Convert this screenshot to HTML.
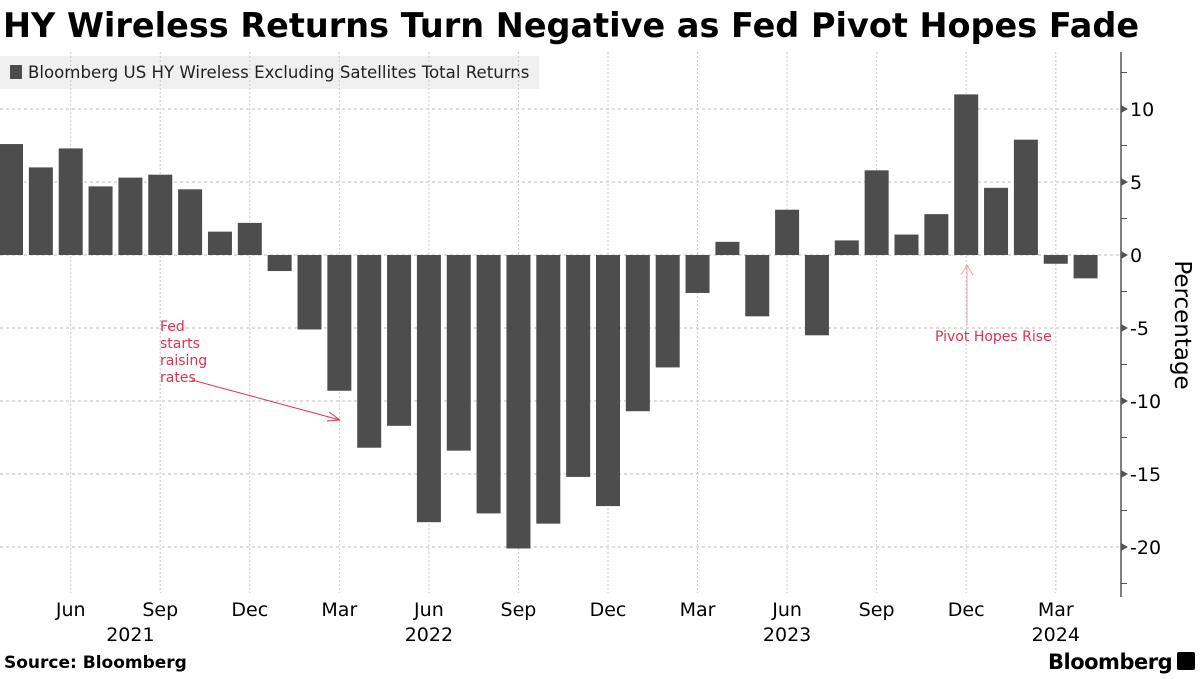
<!DOCTYPE html>
<html><head><meta charset="utf-8"><style>
body{margin:0;background:#fff;font-family:"DejaVu Sans","Liberation Sans",sans-serif;}
svg text{font-family:"DejaVu Sans","Liberation Sans",sans-serif;}
</style></head><body>
<svg id="chart" width="1200" height="675" xmlns="http://www.w3.org/2000/svg">
<text x="3" y="37" font-size="33.5" font-weight="bold" fill="#000">HY Wireless Returns Turn Negative as Fed Pivot Hopes Fade</text>
<g>
<rect x="0" y="56" width="539" height="33" fill="#f0f0f0"/>
<rect x="10" y="65" width="12" height="14" fill="#4d4d4d"/>
<text x="28" y="78" font-size="16.6" fill="#222">Bloomberg US HY Wireless Excluding Satellites Total Returns</text>
</g>
<g id="grid"></g><g id="bars"></g><g id="axis"></g>
<g>
<text x="160" y="331" font-size="14" fill="#e0304e">Fed</text>
<text x="160" y="348" font-size="14" fill="#e0304e">starts</text>
<text x="160" y="365" font-size="14" fill="#e0304e">raising</text>
<text x="160" y="382" font-size="14" fill="#e0304e">rates</text>
<line x1="192" y1="380" x2="340" y2="420" stroke="#e0304e" stroke-width="1"/>
<path d="M340 420 L329 412 M340 420 L327 421" stroke="#e0304e" fill="none"/>
</g>
<g>
<text x="935" y="341" font-size="14" fill="#e0304e">Pivot Hopes Rise</text>
<line x1="967" y1="325" x2="967" y2="265" stroke="#f4a0ae" stroke-width="1"/>
<path d="M961 275 L967 265 L973 275" stroke="#f4a0ae" fill="none"/>
</g>
<text transform="translate(1175,325) rotate(90)" text-anchor="middle" font-size="23" fill="#000">Percentage</text>
<text x="4" y="668" font-size="17" font-weight="bold" fill="#000">Source: Bloomberg</text>
<text x="1048" y="669" font-size="21" font-weight="bold" fill="#000" letter-spacing="-0.5">Bloomberg</text>
<rect x="1177" y="652" width="18" height="18" rx="2" fill="#000"/>
</svg>
<script>
const values=[7.6,6.0,7.3,4.7,5.3,5.5,4.5,1.6,2.2,-1.1,-5.1,-9.3,-13.2,-11.7,-18.3,-13.4,-17.7,-20.1,-18.4,-15.2,-17.2,-10.7,-7.7,-2.6,0.9,-4.2,3.1,-5.5,1.0,5.8,1.4,2.8,11.0,4.6,7.9,-0.6,-1.6];
const monthLabels=["Jun","Sep","Dec","Mar","Jun","Sep","Dec","Mar","Jun","Sep","Dec","Mar"];
const monthIdx=[2,5,8,11,14,17,20,23,26,29,32,35];
const yearLabels=["2021","2022","2023","2024"];
const yearIdx=[4,14,26,35];
const yTicks=[10,5,0,-5,-10,-15,-20];
const NS="http://www.w3.org/2000/svg";
const x=i=>11+i*29.85;
const y=v=>255-v*14.6;
function mk(t,a,p){const e=document.createElementNS(NS,t);for(const k in a)e.setAttribute(k,a[k]);p.appendChild(e);return e;}
const grid=document.getElementById('grid'),bars=document.getElementById('bars'),axis=document.getElementById('axis');
yTicks.forEach(t=>{
 const l=mk('line',{x1:0,x2:1121,y1:y(t),y2:y(t),stroke:'#bbb','stroke-dasharray':'3,3'},grid);
 
 
 const tx=mk('text',{x:1130,y:y(t)+7,'font-size':19,fill:'#000'},axis);tx.textContent=t;
 
 
 mk('path',{d:`M1121 ${y(t)-4} L1128 ${y(t)} L1121 ${y(t)+4}Z`,fill:'#555'},axis);
});
for(let v=12.5;v>=-22.5;v-=5){mk('line',{x1:1121,x2:1127,y1:y(v),y2:y(v),stroke:'#555'},axis);}
mk('line',{x1:1121,x2:1121,y1:52,y2:597,stroke:'#555','stroke-width':1.5},axis);
monthIdx.forEach((m,k)=>{
 const l=mk('line',{x1:x(m),x2:x(m),y1:52,y2:593,stroke:'#ccc','stroke-dasharray':'2,2'},grid);
 
 
 const tx=mk('text',{x:x(m),y:616,'font-size':19,'text-anchor':'middle',fill:'#000'},axis);tx.textContent=monthLabels[k];
 
 
});
yearIdx.forEach((m,k)=>{
 const tx=mk('text',{x:x(m),y:641,'font-size':19,'text-anchor':'middle',fill:'#000'},axis);tx.textContent=yearLabels[k];
 
 
});
values.forEach((v,i)=>{
 const r=mk('rect',{x:x(i)-12,width:24,y:Math.min(y(v),y(0)),height:Math.abs(y(v)-y(0)),fill:'#4d4d4d'},bars);
 
 
});
</script>
</body></html>
